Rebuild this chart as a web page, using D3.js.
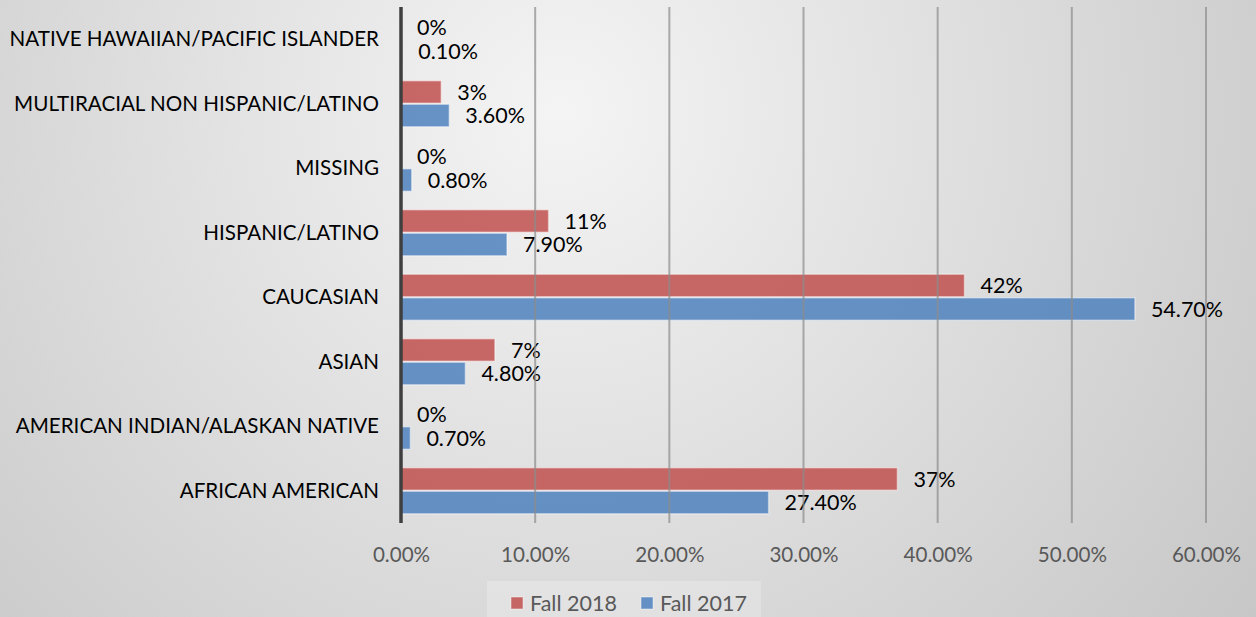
<!DOCTYPE html>
<html><head><meta charset="utf-8">
<script src="https://cdn.jsdelivr.net/npm/d3@7"></script>
<style>html,body{margin:0;padding:0;overflow:hidden;}svg{display:block;}</style>
</head><body>
<script>
const categories = ["NATIVE HAWAIIAN/PACIFIC ISLANDER","MULTIRACIAL NON HISPANIC/LATINO","MISSING","HISPANIC/LATINO","CAUCASIAN","ASIAN","AMERICAN INDIAN/ALASKAN NATIVE","AFRICAN AMERICAN"];
const fall2018 = [0, 3, 0, 11, 42, 7, 0, 37];
const fall2017 = [0.1, 3.6, 0.8, 7.9, 54.7, 4.8, 0.7, 27.4];
const labels2018 = ["0%","3%","0%","11%","42%","7%","0%","37%"];
const labels2017 = ["0.10%","3.60%","0.80%","7.90%","54.70%","4.80%","0.70%","27.40%"];
const seriesNames = ["Fall 2018","Fall 2017"];
const xTicks = [0,10,20,30,40,50,60];

const W=1256,H=617;
const font = "Lato, 'Open Sans', sans-serif";
const svg = d3.select("body").append("svg").attr("width",W).attr("height",H);
const defs = svg.append("defs");
const rg = defs.append("radialGradient").attr("id","bg").attr("gradientUnits","userSpaceOnUse")
  .attr("cx",560).attr("cy",110).attr("r",950);
rg.append("stop").attr("offset","0").attr("stop-color","#f4f4f4");
rg.append("stop").attr("offset","1").attr("stop-color","#c2c2c2");
svg.append("rect").attr("width",W).attr("height",H).attr("fill","url(#bg)");

const x = d3.scaleLinear().domain([0,60]).range([401,1206]);
const y = d3.scaleBand().domain(categories).range([7,523]).paddingInner(0.27).paddingOuter(0.135);
const sub = d3.scaleBand().domain(seriesNames).range([0,y.bandwidth()]);
const colors = {"Fall 2018":"#c0504d","Fall 2017":"#4f81bd"};

const rows = categories.map((c,i)=>({c, vals:[{s:"Fall 2018",v:fall2018[i],l:labels2018[i]},{s:"Fall 2017",v:fall2017[i],l:labels2017[i]}]}));

// bars
const g = svg.append("g");
rows.forEach(r=>{
  r.vals.forEach(d=>{
    if(d.v>0){
      g.append("rect").attr("x",x(0)).attr("y",y(r.c)+sub(d.s)+0.5)
        .attr("width",x(d.v)-x(0)).attr("height",sub.bandwidth()-1)
        .attr("fill",colors[d.s]).attr("fill-opacity",0.85)
        .attr("stroke","#ffffff").attr("stroke-opacity",0.45).attr("stroke-width",1.5);
    }
    g.append("text").attr("x",x(d.v)+16).attr("y",y(r.c)+sub(d.s)+sub.bandwidth()/2)
      .attr("dy","0.35em").attr("font-family",font).attr("font-size",21.5).attr("fill","#000")
      .text(d.l);
  });
});

// gridlines
svg.append("g").selectAll("line").data(xTicks.filter(t=>t>0)).join("line")
  .attr("x1",d=>x(d)).attr("x2",d=>x(d)).attr("y1",7).attr("y2",523)
  .attr("stroke","#8c8c8c").attr("stroke-opacity",0.7).attr("stroke-width",2);

// axis line
svg.append("line").attr("x1",x(0)).attr("x2",x(0)).attr("y1",7).attr("y2",523)
  .attr("stroke","#3f3f3f").attr("stroke-width",3.5);

// x axis labels
const xa = svg.append("g").attr("transform","translate(0,555)")
  .call(d3.axisBottom(x).tickValues(xTicks).tickFormat(d=>d.toFixed(2)+"%").tickSize(0).tickPadding(0));
xa.select(".domain").remove();
xa.selectAll("text").attr("font-family",font).attr("font-size",20.6).attr("fill","#595959").attr("dy","0.35em").attr("y",0);

// y axis labels
const ya = svg.append("g").attr("transform","translate(379,0)")
  .call(d3.axisLeft(y).tickSize(0).tickPadding(0));
ya.select(".domain").remove();
ya.selectAll("text").attr("font-family",font).attr("font-size",20.6).attr("fill","#000").attr("dy","0.35em").attr("x",0);

// legend
const lg = svg.append("g");
lg.append("rect").attr("x",487).attr("y",581).attr("width",274).attr("height",40).attr("fill","#ffffff").attr("fill-opacity",0.22);
const litems = [{s:"Fall 2018",x:511},{s:"Fall 2017",x:641}];
litems.forEach(it=>{
  lg.append("rect").attr("x",it.x).attr("y",597).attr("width",12).attr("height",12)
    .attr("fill",colors[it.s]).attr("fill-opacity",0.85).attr("stroke","#fff").attr("stroke-opacity",0.45);
  lg.append("text").attr("x",it.x+19).attr("y",603).attr("dy","0.35em")
    .attr("font-family",font).attr("font-size",21.5).attr("fill","#595959").text(it.s);
});
</script>
</body></html>
